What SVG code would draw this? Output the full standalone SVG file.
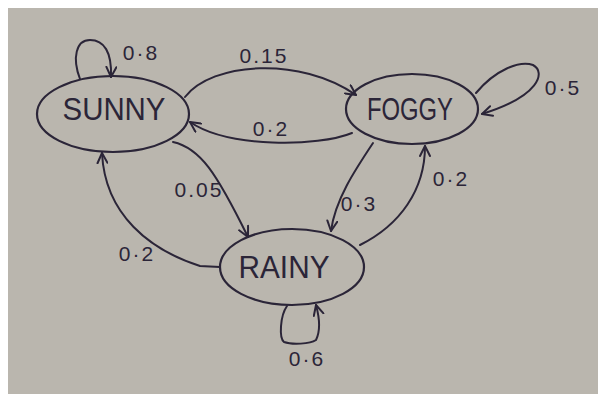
<svg xmlns="http://www.w3.org/2000/svg" width="603" height="398" viewBox="0 0 603 398">
<defs>
<marker id="arr" viewBox="0 0 12 12" refX="11" refY="6" markerWidth="12" markerHeight="12" markerUnits="userSpaceOnUse" orient="auto">
<path d="M1,1 L11,6 L1,11" fill="none" stroke="#2b2538" stroke-width="2" stroke-linecap="round" stroke-linejoin="round"/>
</marker>
</defs>
<style>
.node{fill:none;stroke:#2b2538;stroke-width:2.2}
.name{font-family:"Liberation Sans",Arial,sans-serif;font-size:31px;fill:#2b2538;text-anchor:middle}
.edge{fill:none;stroke:#2b2538;stroke-width:2;marker-end:url(#arr);stroke-linecap:round}
.lbl{font-family:"Liberation Sans",Arial,sans-serif;font-size:21px;fill:#2b2538;letter-spacing:2px;text-anchor:middle}
</style>
<rect width="603" height="398" fill="#ffffff"/>
<rect x="8" y="8" width="590" height="386" fill="#bab6ae"/>
<g id="connectors">
<path class="edge" d="M80,79 C72,58 76,40 90,40 C104,40 112,52 111,77"/>
<path class="edge" d="M185,97 C212,62 300,56 356,95"/>
<path class="edge" d="M352,133 C318,147 228,148 190,122"/>
<path class="edge" d="M476,93 C495,70 520,60 533,65 C546,72 540,96 482,114"/>
<path class="edge" d="M173,142 C200,148 216,172 248,237"/>
<path class="edge" d="M220,267 L200,266 C150,250 105,215 102,153"/>
<path class="edge" d="M373,143 C355,170 335,200 331,231"/>
<path class="edge" d="M360,245 C400,225 425,190 425,146"/>
<path class="edge" d="M287,306 C280,316 279,338 284,342 C292,345 310,344 316,340 C321,330 319,316 316,305"/>
<text class="lbl" x="141" y="60">0·8</text>
<text class="lbl" x="264" y="63">0.15</text>
<text class="lbl" x="271" y="136">0·2</text>
<text class="lbl" x="563" y="95">0·5</text>
<text class="lbl" x="199" y="197">0.05</text>
<text class="lbl" x="137" y="261">0·2</text>
<text class="lbl" x="359" y="211">0·3</text>
<text class="lbl" x="451" y="186">0·2</text>
<text class="lbl" x="307" y="366">0·6</text>
</g>
<g id="sunny">
<ellipse class="node" cx="113" cy="114" rx="76" ry="38"/>
<text class="name" x="114" y="120" textLength="103" lengthAdjust="spacingAndGlyphs">SUNNY</text>
</g>
<g id="foggy">
<ellipse class="node" cx="412" cy="109" rx="66" ry="35"/>
<text class="name" x="410" y="120" textLength="86" lengthAdjust="spacingAndGlyphs">FOGGY</text>
</g>
<g id="rainy">
<ellipse class="node" cx="292" cy="267" rx="72" ry="38"/>
<text class="name" x="284" y="278" textLength="91" lengthAdjust="spacingAndGlyphs">RAINY</text>
</g>
</svg>
